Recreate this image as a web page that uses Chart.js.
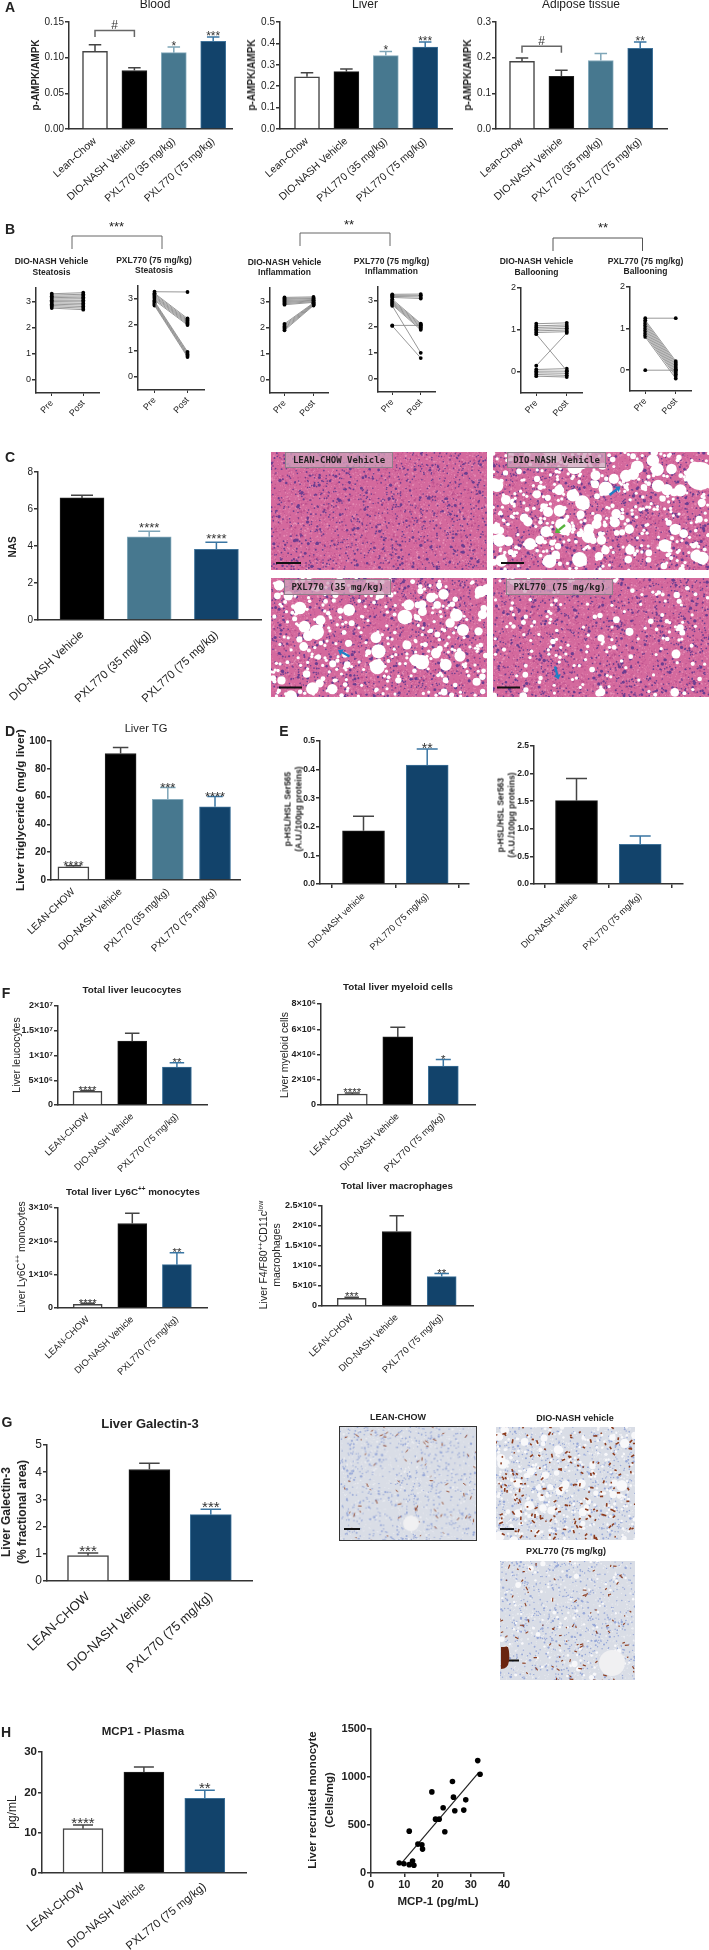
<!DOCTYPE html>
<html>
<head>
<meta charset="utf-8">
<title>PXL770 figure</title>
<script src="https://cdn.jsdelivr.net/npm/chart.js@4"></script>
<style>
  html, body { margin: 0; background: #fff; }
  #page { position: relative; width: 709px; height: 1950px; overflow: hidden; font-family: "Liberation Sans", Arial, sans-serif; color: #222; filter: blur(0.35px); }
  #page canvas { position: absolute; display: block; }
  .t { position: absolute; white-space: nowrap; line-height: 1; text-align: center; }
  .t sup { font-size: 65%; line-height: 0; }
  .tag { position: absolute; box-sizing: border-box; background: rgba(205,160,185,.75); border: 1px solid #8f7f8a; font: bold 9px "DejaVu Sans Mono", monospace; color: #222; line-height: 14px; text-align: center; white-space: nowrap; }
  svg { position: absolute; left: 0; top: 0; }
</style>
</head>
<body>
<div id="page"></div>
<script>
// ---- data ----
const groups4 = ["Lean-Chow", "DIO-NASH Vehicle", "PXL770 (35 mg/kg)", "PXL770 (75 mg/kg)"];
const groupsNas = ["DIO-NASH Vehicle", "PXL770 (35 mg/kg)", "PXL770 (75 mg/kg)"];
const groupsTg = ["LEAN-CHOW", "DIO-NASH Vehicle", "PXL770 (35 mg/kg)", "PXL770 (75 mg/kg)"];
const groupsHsl = ["DIO-NASH vehicle", "PXL770 (75 mg/kg)"];
const groups3 = ["LEAN-CHOW", "DIO-NASH Vehicle", "PXL770 (75 mg/kg)"];
const prePost = ["Pre", "Post"];

const bloodValues = [0.109, 0.082, 0.107, 0.123];
const bloodTops = [0.118, 0.086, 0.115, 0.129];
const liverValues = [0.244, 0.268, 0.343, 0.383];
const liverTops = [0.263, 0.280, 0.362, 0.407];
const adiposeValues = [0.19, 0.148, 0.192, 0.226];
const adiposeTops = [0.199, 0.165, 0.212, 0.244];

const steatVehPre = [3.30, 3.25, 3.20, 3.15, 3.10, 3.05, 3.00, 2.95, 2.90, 2.85, 2.80, 2.75];
const steatVehPost = [3.34, 3.28, 3.22, 3.17, 3.11, 3.05, 2.99, 2.93, 2.87, 2.81, 2.75, 2.69];
const steatPxlPre = [3.28, 3.22, 3.18, 3.13, 3.09, 3.05, 3.00, 2.95, 2.91, 2.87, 2.83, 2.79, 2.75];
const steatPxlPost = [3.27, 2.25, 2.20, 2.16, 2.12, 2.08, 2.04, 2.00, 0.97, 0.92, 0.87, 0.82, 0.77];
const inflVehPre = [3.16, 3.12, 3.08, 3.04, 3.00, 2.96, 2.92, 2.88, 2.15, 2.10, 2.05, 2.00, 1.95, 1.90];
const inflVehPost = [3.18, 3.14, 3.12, 3.08, 3.05, 3.03, 3.00, 2.97, 2.95, 2.93, 2.91, 2.89, 2.87, 2.85];
const inflPxlPre = [3.24, 3.20, 3.16, 3.12, 3.05, 3.00, 2.96, 2.92, 2.88, 2.84, 2.80, 2.05, 2.03];
const inflPxlPost = [3.25, 3.20, 3.14, 3.08, 2.12, 2.08, 2.03, 1.98, 1.93, 1.88, 1.00, 2.05, 0.80];
const ballVehPre = [1.15, 1.10, 1.06, 1.02, 0.98, 0.94, 0.90, 0.15, 0.06, 0.02, -0.02, -0.06, -0.10];
const ballVehPost = [1.17, 1.12, 1.08, 1.04, 1.00, 0.96, 0.03, 0.93, 0.08, 0.02, -0.03, -0.08, -0.12];
const ballPxlPre = [1.25, 1.20, 1.16, 1.12, 1.08, 1.04, 1.00, 0.96, 0.92, 0.88, 0.84, 0.80, 0.00];
const ballPxlPost = [1.25, 0.22, 0.18, 0.14, 0.10, 0.06, 0.02, -0.02, -0.06, -0.10, -0.14, -0.20, 0.00];

const nasValues = [6.6, 4.5, 3.82];
const nasTops = [6.75, 4.8, 4.2];
const tgValues = [9.5, 91, 58, 52.7];
const tgTops = [10.3, 95.3, 66.5, 60];
const ser565Values = [0.186, 0.416];
const ser565Tops = [0.237, 0.472];
const ser563Values = [1.51, 0.72];
const ser563Tops = [1.91, 0.87];

const leucoValues = [2.75e6, 1.29e7, 7.68e6];
const leucoTops = [2.95e6, 1.447e7, 8.55e6];
const myeloidValues = [0.87e6, 5.39e6, 3.08e6];
const myeloidTops = [0.95e6, 6.16e6, 3.6e6];
const ly6cValues = [0.11e6, 2.535e6, 1.3e6];
const ly6cTops = [0.14e6, 2.84e6, 1.66e6];
const macroValues = [1.93e5, 1.863e6, 7.35e5];
const macroTops = [2.2e5, 2.257e6, 8.1e5];
const galectinValues = [0.93, 4.1, 2.44];
const galectinTops = [1.03, 4.33, 2.64];
const mcp1Values = [11, 25, 18.5];
const mcp1Tops = [11.9, 26.3, 20.5];

const mcpX = [8.5, 9.9, 11.5, 12.5, 11.5, 12.9, 14.1, 15.3, 15.5, 18.3, 19.4, 20.5, 21.7, 22.2, 24.5, 24.8, 25.2, 27.9, 28.5, 32.1, 32.8];
const monoY = [104, 97, 87, 125, 436, 80, 301, 294, 249, 845, 561, 561, 679, 430, 953, 790, 648, 655, 762, 1171, 1029];
const fitX = [9.2, 32.3];
const fitY = [104, 1043];

// ---- styles ----
const FONT = '"Liberation Sans", Arial, sans-serif';
const AXIS = "#333";
const WHITE_BAR = { fill: "#fff", edge: "#444", err: "#444" };
const BLACK_BAR = { fill: "#000", edge: "#222", err: "#444" };
const TEAL_BAR = { fill: "#47788f", edge: "#86abbc", err: "#7fa6b8" };
const NAVY_BAR = { fill: "#12436b", edge: "#3f7299", err: "#3a76a3" };

const page = document.getElementById("page");

function txt(html, cx, cy, size, opt) {
    opt = opt || {};
    const d = document.createElement("div");
    d.className = "t";
    d.innerHTML = html;
    d.style.left = cx + "px";
    d.style.top = cy + "px";
    d.style.fontSize = size + "px";
    d.style.fontWeight = opt.bold ? "bold" : "normal";
    if (opt.lineHeight) d.style.lineHeight = opt.lineHeight + "px";
    d.style.transform = "translate(-50%,-50%) rotate(" + (opt.rot || 0) + "deg)";
    page.appendChild(d);
}

function addCanvas(left, top, w, h) {
    const c = document.createElement("canvas");
    c.width = w;
    c.height = h;
    c.style.left = left + "px";
    c.style.top = top + "px";
    c.style.width = w + "px";
    c.style.height = h + "px";
    page.appendChild(c);
    return c;
}

// error whiskers, stars and "#" brackets are drawn against the chart's scales
const barExtras = {
    id: "barExtras",
    afterDatasetsDraw(chart, args, o) {
        const xs = chart.scales.x, ys = chart.scales.y, ctx = chart.ctx;
        ctx.save();
        o.tops.forEach((top, i) => {
            const x = xs.getPixelForValue(i);
            const y = ys.getPixelForValue(top);
            const base = ys.getPixelForValue(o.values[i]);
            const cap = o.barW / 4;
            ctx.strokeStyle = o.styles[i].err;
            ctx.lineWidth = 1.5;
            ctx.beginPath();
            ctx.moveTo(x, base);
            ctx.lineTo(x, y);
            ctx.moveTo(x - cap, y);
            ctx.lineTo(x + cap, y);
            ctx.stroke();
            if (o.stars && o.stars[i]) {
                ctx.fillStyle = "#333";
                ctx.font = o.starSize + "px " + FONT;
                ctx.textAlign = "center";
                ctx.textBaseline = "alphabetic";
                ctx.fillText(o.stars[i], x, y - o.starGap + 0.58 * o.starSize);
            }
        });
        if (o.bracket) {
            const a = xs.getPixelForValue(o.bracket.from), b = xs.getPixelForValue(o.bracket.to);
            const y = ys.getPixelForValue(o.bracket.at);
            ctx.strokeStyle = "#666";
            ctx.lineWidth = 1.5;
            ctx.beginPath();
            ctx.moveTo(a, y + 6.5);
            ctx.lineTo(a, y);
            ctx.lineTo(b, y);
            ctx.lineTo(b, y + 6.5);
            ctx.stroke();
            ctx.fillStyle = "#333";
            ctx.font = "12px " + FONT;
            ctx.textAlign = "center";
            ctx.textBaseline = "middle";
            ctx.fillText(o.bracket.text, (a + b) / 2, y - 4.5);
        }
        ctx.restore();
    }
};

function fixBox(w, h) {
    return {
        y: s => { s.width = w; s.paddingTop = 0; s.paddingBottom = 0; },
        x: s => { s.height = h; s.paddingLeft = 0; s.paddingRight = 0; }
    };
}

function yAxis(p, fit) {
    return {
        min: p.yMin || 0,
        max: p.yMax,
        afterBuildTicks: s => { s.ticks = p.yTicks.map(v => ({ value: v })); },
        afterFit: fit,
        border: { color: AXIS, width: 1.5 },
        grid: { drawOnChartArea: false, color: AXIS, lineWidth: 1.5, tickLength: 4 },
        ticks: {
            autoSkip: false,
            padding: 1,
            color: "#222",
            font: { family: FONT, size: p.tickSize, weight: p.tickBold ? "bold" : "normal" },
            callback: (v, i) => p.yLabels[i]
        }
    };
}

function barPanel(p) {
    const leftW = 72, rightPad = 10, topPad = 16, botH = 120;
    const w = leftW + p.x1 - p.x0 + rightPad;
    const h = topPad + p.bottom - p.top + botH;
    const fit = fixBox(leftW, botH);
    const step = p.step;
    const rot = p.labelRot || 44;
    new Chart(addCanvas(p.x0 - leftW, p.top - topPad, w, h), {
        type: "bar",
        data: {
            datasets: [{
                data: p.values.map((v, i) => ({ x: i, y: v })),
                backgroundColor: p.styles.map(s => s.fill),
                borderColor: p.styles.map(s => s.edge),
                borderWidth: p.styles.map(s => (s === WHITE_BAR ? 1.5 : 1)),
                borderSkipped: "bottom",
                barThickness: p.barW
            }]
        },
        options: {
            responsive: false,
            animation: false,
            events: [],
            layout: { padding: { top: topPad, right: rightPad, left: 0, bottom: 0 } },
            plugins: {
                legend: { display: false },
                tooltip: { enabled: false },
                barExtras: {
                    values: p.values, tops: p.tops, styles: p.styles, barW: p.barW,
                    stars: p.stars, starSize: p.starSize || 12, starGap: p.starGap === undefined ? 4 : p.starGap,
                    bracket: p.bracket
                }
            },
            scales: {
                x: {
                    type: "linear",
                    offset: false,
                    min: (p.x0 - p.first) / step,
                    max: (p.x1 - p.first) / step,
                    afterBuildTicks: s => { s.ticks = p.labels.map((l, i) => ({ value: i })); },
                    afterFit: fit.x,
                    border: { color: AXIS, width: 1.5 },
                    grid: p.xTicks ? { drawOnChartArea: false, color: AXIS, lineWidth: 1.5, tickLength: 4 } : { display: false, drawTicks: false },
                    ticks: {
                        autoSkip: false,
                        minRotation: rot,
                        maxRotation: rot,
                        padding: p.labelPad === undefined ? 6 : p.labelPad,
                        color: "#222",
                        font: { family: FONT, size: p.labelSize },
                        callback: v => p.labels[v]
                    }
                },
                y: yAxis(p, fit.y)
            }
        },
        plugins: [barExtras]
    });
}

function pairPanel(p) {
    const leftW = 24, rightPad = 8, topPad = 6, botH = 50;
    const w = leftW + p.x1 - p.x0 + rightPad;
    const h = topPad + p.bottom - p.top + botH;
    const fit = fixBox(leftW, botH);
    p.tickSize = 9;
    new Chart(addCanvas(p.x0 - leftW, p.top - topPad, w, h), {
        type: "line",
        data: {
            labels: prePost,
            datasets: p.pre.map((v, i) => ({
                data: [v, p.post[i]],
                borderColor: "#8c8c8c",
                borderWidth: 0.9,
                pointRadius: 1.9,
                pointBorderWidth: 0,
                pointBackgroundColor: "#000",
                clip: false
            }))
        },
        options: {
            responsive: false,
            animation: false,
            events: [],
            layout: { padding: { top: topPad, right: rightPad, left: 0, bottom: 0 } },
            plugins: { legend: { display: false }, tooltip: { enabled: false } },
            scales: {
                x: {
                    offset: true,
                    afterFit: fit.x,
                    border: { color: AXIS, width: 1.5 },
                    grid: { drawOnChartArea: false, offset: false, color: AXIS, lineWidth: 1, tickLength: 3 },
                    ticks: {
                        autoSkip: false, minRotation: 48, maxRotation: 48, padding: 2,
                        color: "#222", font: { family: FONT, size: 9 }
                    }
                },
                y: yAxis(p, fit.y)
            }
        }
    });
}

function scatterPanel() {
    const leftW = 50, rightPad = 14, topPad = 8, botH = 24;
    const x0 = 371, x1 = 504, top = 1729, bottom = 1873;
    const fit = fixBox(leftW, botH);
    const p = { yMax: 1500, yTicks: [0, 500, 1000, 1500], yLabels: ["0", "500", "1000", "1500"], tickSize: 11, tickBold: true };
    new Chart(addCanvas(x0 - leftW, top - topPad, leftW + x1 - x0 + rightPad, topPad + bottom - top + botH), {
        type: "scatter",
        data: {
            datasets: [
                {
                    data: mcpX.map((v, i) => ({ x: v, y: monoY[i] })),
                    pointRadius: 2.8, pointBorderWidth: 0, pointBackgroundColor: "#000", showLine: false
                },
                {
                    data: fitX.map((v, i) => ({ x: v, y: fitY[i] })),
                    showLine: true, borderColor: "#222", borderWidth: 1.2, pointRadius: 0
                }
            ]
        },
        options: {
            responsive: false,
            animation: false,
            events: [],
            layout: { padding: { top: topPad, right: rightPad, left: 0, bottom: 0 } },
            plugins: { legend: { display: false }, tooltip: { enabled: false } },
            scales: {
                x: {
                    type: "linear",
                    min: 0, max: 40,
                    afterFit: fit.x,
                    border: { color: AXIS, width: 1.5 },
                    grid: { drawOnChartArea: false, color: AXIS, lineWidth: 1.5, tickLength: 4 },
                    ticks: { stepSize: 10, padding: 1, color: "#222", font: { family: FONT, size: 11, weight: "bold" } }
                },
                y: yAxis(p, fit.y)
            }
        }
    });
}

// ---- panel A ----
const styles4 = [WHITE_BAR, BLACK_BAR, TEAL_BAR, NAVY_BAR];
const styles3 = [WHITE_BAR, BLACK_BAR, NAVY_BAR];
const styles2 = [BLACK_BAR, NAVY_BAR];
barPanel({ x0: 69, x1: 232, top: 22, bottom: 129, first: 95, step: 39.4, barW: 25, values: bloodValues, tops: bloodTops, styles: styles4, labels: groups4, labelSize: 10.5, labelRot: 42,
    yMax: 0.15, yTicks: [0, 0.05, 0.10, 0.15], yLabels: ["0.00", "0.05", "0.10", "0.15"], tickSize: 10,
    stars: ["", "", "*", "***"], bracket: { from: 0, to: 1, at: 0.138, text: "#" } });
barPanel({ x0: 280, x1: 452, top: 22, bottom: 129, first: 307, step: 39.4, barW: 25, values: liverValues, tops: liverTops, styles: styles4, labels: groups4, labelSize: 10.5, labelRot: 42,
    yMax: 0.5, yTicks: [0, 0.1, 0.2, 0.3, 0.4, 0.5], yLabels: ["0.0", "0.1", "0.2", "0.3", "0.4", "0.5"], tickSize: 10,
    stars: ["", "", "*", "***"] });
barPanel({ x0: 496, x1: 667, top: 22, bottom: 129, first: 522, step: 39.4, barW: 25, values: adiposeValues, tops: adiposeTops, styles: styles4, labels: groups4, labelSize: 10.5, labelRot: 42,
    yMax: 0.3, yTicks: [0, 0.1, 0.2, 0.3], yLabels: ["0.0", "0.1", "0.2", "0.3"], tickSize: 10,
    stars: ["", "", "", "**"], bracket: { from: 0, to: 1, at: 0.232, text: "#" } });

txt("Blood", 155, 4, 12);
txt("Liver", 365, 4, 12);
txt("Adipose tissue", 581, 4, 12);
txt("p-AMPK/AMPK", 36, 75, 10, { bold: true, rot: -90 });
txt("p-AMPK/AMPK", 252, 75, 10, { bold: true, rot: -90 });
txt("p-AMPK/AMPK", 468, 75, 10, { bold: true, rot: -90 });

// ---- panel B ----
const ticks3 = [0, 1, 2, 3], labels3 = ["0", "1", "2", "3"];
const ticks2 = [0, 1, 2], labels2 = ["0", "1", "2"];
pairPanel({ x0: 36, x1: 99, top: 288, bottom: 393, yMin: -0.5, yMax: 3.52, yTicks: ticks3, yLabels: labels3, pre: steatVehPre, post: steatVehPost });
pairPanel({ x0: 138, x1: 204, top: 286, bottom: 390, yMin: -0.5, yMax: 3.5, yTicks: ticks3, yLabels: labels3, pre: steatPxlPre, post: steatPxlPost });
pairPanel({ x0: 270, x1: 328, top: 288, bottom: 393, yMin: -0.5, yMax: 3.52, yTicks: ticks3, yLabels: labels3, pre: inflVehPre, post: inflVehPost });
pairPanel({ x0: 378, x1: 435, top: 287, bottom: 392, yMin: -0.5, yMax: 3.52, yTicks: ticks3, yLabels: labels3, pre: inflPxlPre, post: inflPxlPost });
pairPanel({ x0: 521, x1: 582, top: 288, bottom: 393, yMin: -0.5, yMax: 2, yTicks: ticks2, yLabels: labels2, pre: ballVehPre, post: ballVehPost });
pairPanel({ x0: 630, x1: 691, top: 287, bottom: 391, yMin: -0.5, yMax: 2, yTicks: ticks2, yLabels: labels2, pre: ballPxlPre, post: ballPxlPost });

[
    ["DIO-NASH Vehicle", "Steatosis", 51.5, 260.5, 271.5],
    ["PXL770 (75 mg/kg)", "Steatosis", 154, 259.5, 269.5],
    ["DIO-NASH Vehicle", "Inflammation", 284.5, 261.5, 272],
    ["PXL770 (75 mg/kg)", "Inflammation", 391.5, 260.5, 271],
    ["DIO-NASH Vehicle", "Ballooning", 536.5, 261, 272],
    ["PXL770 (75 mg/kg)", "Ballooning", 645.5, 260.5, 270.5]
].forEach(r => {
    txt(r[0], r[2], r[3], 8.5, { bold: true });
    txt(r[1], r[2], r[4], 8.5, { bold: true });
});
txt("***", 116.5, 226, 13);
txt("**", 349, 224, 13);
txt("**", 603, 227, 13);

// ---- histology pictures: only a texture, no data in them.
// Spot positions come from a fixed hash of the index so the picture is the same on every run.
function hash(i, k) {
    const v = Math.sin(i * 12.9898 + k * 78.233) * 43758.5453;
    return v - Math.floor(v);
}

function scatterDots(ctx, w, h, n, color, rMin, rMax, skip) {
    ctx.fillStyle = color;
    for (let i = skip + 1; i <= skip + n; i++) {
        const s = hash(i, 3);
        ctx.beginPath();
        ctx.arc(hash(i, 1) * w, hash(i, 2) * h, rMin + (rMax - rMin) * Math.pow(s, 7), 0, 6.3);
        ctx.fill();
    }
}
function scatterStreaks(ctx, w, h, n, color, len, lw, skip) {
    ctx.strokeStyle = color;
    ctx.lineWidth = lw;
    for (let i = skip + 1; i <= skip + n; i++) {
        const a = hash(i, 3) * 6.3, x = hash(i, 1) * w, y = hash(i, 2) * h;
        const l = len * (0.4 + hash(i, 4));
        ctx.beginPath();
        ctx.moveTo(x, y);
        ctx.lineTo(x + Math.cos(a) * l, y + Math.sin(a) * l);
        ctx.stroke();
    }
}

function heTissue(x, y, w, h, drops, rBig, holes, skip) {
    const ctx = addCanvas(x, y, w, h).getContext("2d");
    ctx.fillStyle = "#d4699d";
    ctx.fillRect(0, 0, w, h);
    scatterDots(ctx, w, h, 2600, "rgba(244,170,200,.5)", 0.5, 1.2, skip);
    scatterDots(ctx, w, h, 1800, "rgba(165,60,130,.5)", 0.5, 1.2, skip + 3000);
    scatterDots(ctx, w, h, 1000, "#6a3d90", 0.8, 1.7, skip + 5000);
    scatterDots(ctx, w, h, drops, "#fff", 1.6, rBig, skip + 7000);
    (holes || []).forEach(c => {
        ctx.fillStyle = "#fff";
        ctx.beginPath();
        ctx.arc(c[0], c[1], c[2], 0, 6.3);
        ctx.fill();
    });
}
function ihcTissue(x, y, w, h, browns, brownW, drops, rBig, holes, border, skip) {
    const c = addCanvas(x, y, w, h);
    if (border) { c.style.boxSizing = "border-box"; c.style.border = "1px solid #333"; }
    const ctx = c.getContext("2d");
    ctx.fillStyle = "#d9dde6";
    ctx.fillRect(0, 0, w, h);
    scatterDots(ctx, w, h, 900, "rgba(240,241,245,.8)", 0.5, 1.2, skip);
    scatterDots(ctx, w, h, 650, "#97a8d8", 0.7, 1.3, skip + 2000);
    scatterDots(ctx, w, h, drops, "#f8f8fa", 1.2, rBig, skip + 4000);
    scatterStreaks(ctx, w, h, browns, "#8c3a1c", 3, brownW, skip + 6000);
    (holes || []).forEach(k => {
        ctx.fillStyle = "#f0f0f2";
        ctx.beginPath();
        ctx.arc(k[0], k[1], k[2], 0, 6.3);
        ctx.fill();
    });
}
function tag(text, x, y, w) {
    const d = document.createElement("div");
    d.className = "tag";
    d.textContent = text;
    d.style.cssText = "left:" + x + "px;top:" + y + "px;width:" + w + "px;height:16px;";
    page.appendChild(d);
}

heTissue(271, 452, 216, 118, 0, 0, [], 0);
heTissue(493, 452, 216, 118, 460, 7.5, [[207, 24, 14], [37, 92, 6], [55, 60, 5], [140, 22, 6]], 10000);
heTissue(271, 578, 216, 119, 360, 7.5, [[78, 32, 6], [192, 52, 6], [165, 75, 5], [145, 82, 6]], 20000);
heTissue(493, 578, 216, 119, 150, 4.5, [[108, 60, 3.5], [183, 76, 4.5]], 30000);
tag("LEAN-CHOW Vehicle", 285, 452, 108);
tag("DIO-NASH Vehicle", 507, 452, 99);
tag("PXL770 (35 mg/kg)", 284, 579, 107);
tag("PXL770 (75 mg/kg)", 506, 579, 107);

ihcTissue(339, 1426, 138, 115, 70, 0.9, 0, 0, [[72, 98, 8]], true, 40000);
ihcTissue(496, 1427, 139, 113, 170, 1.6, 300, 5.5, [], false, 50000);
ihcTissue(500, 1561, 135, 119, 90, 1.1, 90, 3.5, [[112, 102, 13]], false, 60000);
txt("LEAN-CHOW", 398, 1417, 9, { bold: true });
txt("DIO-NASH vehicle", 575, 1417.5, 9, { bold: true });
txt("PXL770 (75 mg/kg)", 566, 1551, 9, { bold: true });

// ---- panel C ----
barPanel({ x0: 38, x1: 261, top: 472, bottom: 620, first: 82, step: 67.2, barW: 44, values: nasValues, tops: nasTops, styles: [BLACK_BAR, TEAL_BAR, NAVY_BAR], labels: groupsNas, labelSize: 11.5, labelPad: 8, labelRot: 43,
    yMax: 8, yTicks: [0, 2, 4, 6, 8], yLabels: ["0", "2", "4", "6", "8"], tickSize: 10,
    stars: ["", "****", "****"], starSize: 13, starGap: 7 });
txt("NAS", 13, 547, 10, { bold: true, rot: -90 });

// ---- panel D ----
barPanel({ x0: 51, x1: 240, top: 741, bottom: 880, first: 73.4, step: 47.2, barW: 31, values: tgValues, tops: tgTops, styles: styles4, labels: groupsTg, labelSize: 10,
    yMax: 100, yTicks: [0, 20, 40, 60, 80, 100], yLabels: ["0", "20", "40", "60", "80", "100"], tickSize: 10, tickBold: true,
    stars: ["****", "", "***", "****"], starSize: 13, starGap: 3.5 });
txt("Liver TG", 146, 729, 11.2);
txt("Liver triglyceride (mg/g liver)", 21, 810, 11.8, { bold: true, rot: -90 });

// ---- panel E ----
barPanel({ x0: 320, x1: 469, top: 741, bottom: 884, first: 363.5, step: 63.7, barW: 42, values: ser565Values, tops: ser565Tops, styles: styles2, labels: groupsHsl, labelSize: 9, xTicks: true, labelPad: 3,
    yMax: 0.5, yTicks: [0, 0.1, 0.2, 0.3, 0.4, 0.5], yLabels: ["0.0", "0.1", "0.2", "0.3", "0.4", "0.5"], tickSize: 8.5, tickBold: true,
    stars: ["", "**"], starSize: 14, starGap: 4.5 });
barPanel({ x0: 534, x1: 683, top: 746, bottom: 884, first: 576.5, step: 63.7, barW: 42, values: ser563Values, tops: ser563Tops, styles: styles2, labels: groupsHsl, labelSize: 9, xTicks: true, labelPad: 3,
    yMax: 2.5, yTicks: [0, 0.5, 1, 1.5, 2, 2.5], yLabels: ["0.0", "0.5", "1.0", "1.5", "2.0", "2.5"], tickSize: 8.5, tickBold: true });
txt("p-HSL/HSL Ser565<br>(A.U./100µg proteins)", 293, 809, 8.5, { bold: true, rot: -90, lineHeight: 10.5 });
txt("p-HSL/HSL Ser563<br>(A.U./100µg proteins)", 506, 815, 8.5, { bold: true, rot: -90, lineHeight: 10.5 });

// ---- panel F ----
barPanel({ x0: 58, x1: 207, top: 1006, bottom: 1105, first: 87.5, step: 44.7, barW: 29, values: leucoValues, tops: leucoTops, styles: styles3, labels: groups3, labelSize: 9.3,
    yMax: 2e7, yTicks: [0, 5e6, 1e7, 1.5e7, 2e7], yLabels: ["0", "5×10⁶", "1×10⁷", "1.5×10⁷", "2×10⁷"], tickSize: 9, tickBold: true,
    stars: ["****", "", "**"], starSize: 11.5, starGap: 3.5 });
barPanel({ x0: 321, x1: 475, top: 1004, bottom: 1105, first: 352.3, step: 45.5, barW: 30, values: myeloidValues, tops: myeloidTops, styles: styles3, labels: groups3, labelSize: 9.3,
    yMax: 8e6, yTicks: [0, 2e6, 4e6, 6e6, 8e6], yLabels: ["0", "2×10⁶", "4×10⁶", "6×10⁶", "8×10⁶"], tickSize: 9, tickBold: true,
    stars: ["****", "", "*"], starSize: 11.5, starGap: 3.5 });
barPanel({ x0: 58, x1: 207, top: 1208, bottom: 1308, first: 87.7, step: 44.6, barW: 29, values: ly6cValues, tops: ly6cTops, styles: styles3, labels: groups3, labelSize: 9.3,
    yMax: 3e6, yTicks: [0, 1e6, 2e6, 3e6], yLabels: ["0", "1×10⁶", "2×10⁶", "3×10⁶"], tickSize: 9, tickBold: true,
    stars: ["****", "", "**"], starSize: 11.5, starGap: 3.5 });
barPanel({ x0: 322, x1: 473, top: 1206, bottom: 1306, first: 351.7, step: 45, barW: 29, values: macroValues, tops: macroTops, styles: styles3, labels: groups3, labelSize: 9.3,
    yMax: 2.5e6, yTicks: [0, 5e5, 1e6, 1.5e6, 2e6, 2.5e6], yLabels: ["0", "5×10⁵", "1×10⁶", "1.5×10⁶", "2×10⁶", "2.5×10⁶"], tickSize: 9, tickBold: true,
    stars: ["***", "", "**"], starSize: 11.5, starGap: 3.5 });

txt("Total liver leucocytes", 132, 990, 9.8, { bold: true });
txt("Total liver myeloid cells", 398, 987, 9.8, { bold: true });
txt("Total liver Ly6C<sup>++</sup> monocytes", 133, 1192, 9.8, { bold: true });
txt("Total liver macrophages", 397, 1186, 9.8, { bold: true });
txt("Liver leucocytes", 15.5, 1054.5, 10.5, { rot: -90 });
txt("Liver myeloid cells", 284, 1054.5, 10.5, { rot: -90 });
txt("Liver Ly6C<sup>++</sup> monocytes", 20.5, 1257, 10.5, { rot: -90 });
txt("Liver F4/F80<sup>++</sup>CD11c<sup>low</sup><br>macrophages", 270, 1255, 10.5, { rot: -90, lineHeight: 13 });

// ---- panel G ----
barPanel({ x0: 47, x1: 252, top: 1445, bottom: 1581, first: 88, step: 61.4, barW: 41, values: galectinValues, tops: galectinTops, styles: styles3, labels: groups3, labelSize: 13, labelPad: 8, labelRot: 43,
    yMax: 5, yTicks: [0, 1, 2, 3, 4, 5], yLabels: ["0", "1", "2", "3", "4", "5"], tickSize: 12,
    stars: ["***", "", "***"], starSize: 15, starGap: 6 });
txt("Liver Galectin-3", 150, 1423, 13, { bold: true });
txt("Liver Galectin-3<br>(% fractional area)", 13.5, 1512, 12, { bold: true, rot: -90, lineHeight: 16 });

// ---- panel H ----
barPanel({ x0: 42, x1: 246, top: 1752, bottom: 1873, first: 83, step: 60.9, barW: 40, values: mcp1Values, tops: mcp1Tops, styles: styles3, labels: groups3, labelSize: 11.5, labelPad: 7, labelRot: 39,
    yMax: 30, yTicks: [0, 10, 20, 30], yLabels: ["0", "10", "20", "30"], tickSize: 11.5, tickBold: true,
    stars: ["****", "", "**"], starSize: 15, starGap: 6 });
scatterPanel();
txt("MCP1 - Plasma", 143, 1732, 11.5, { bold: true });
txt("pg/mL", 12, 1812, 12, { rot: -90 });
txt("MCP-1 (pg/mL)", 438, 1902, 11.5, { bold: true });
txt("Liver recruited monocyte<br>(Cells/mg)", 321, 1800, 11.5, { bold: true, rot: -90, lineHeight: 17 });

// ---- panel letters ----
[["A", 10, 7], ["B", 10, 229], ["C", 10, 457], ["D", 10, 731], ["E", 284, 731], ["F", 6, 993], ["G", 7, 1422], ["H", 6, 1732]].forEach(r => {
    txt(r[0], r[1], r[2], 14, { bold: true });
});

// ---- brackets, scale bars, arrows ----
const NS = "http://www.w3.org/2000/svg";
const svg = document.createElementNS(NS, "svg");
svg.setAttribute("width", 709);
svg.setAttribute("height", 1950);
page.appendChild(svg);

function path(d, stroke, width, fill) {
    const e = document.createElementNS(NS, "path");
    e.setAttribute("d", d);
    e.setAttribute("stroke", stroke);
    e.setAttribute("stroke-width", width);
    e.setAttribute("fill", fill || "none");
    svg.appendChild(e);
}
function arrow(x1, y1, x2, y2, color) {
    const a = Math.atan2(y2 - y1, x2 - x1), s = 3.6;
    const bx = x2 - Math.cos(a) * s * 1.3, by = y2 - Math.sin(a) * s * 1.3;
    path("M" + x1 + " " + y1 + "L" + bx + " " + by, color, 2.4);
    path("M" + x2 + " " + y2 + "L" + (bx - Math.sin(a) * s) + " " + (by + Math.cos(a) * s) + "L" + (bx + Math.sin(a) * s) + " " + (by - Math.cos(a) * s) + "Z", color, 0, color);
}
path("M72 249V236H162V249", "#666", 1);
path("M300 246V233H390V246", "#666", 1);
path("M553 251V238H642.5V251", "#555", 1);

[[276, 301, 563], [501, 524, 563], [279, 302, 687.5], [497, 520, 687.5], [344, 360, 1529], [500, 514, 1529], [505, 519, 1660.5]].forEach(r => {
    path("M" + r[0] + " " + r[2] + "H" + r[1], "#111", 2);
});
arrow(609.5, 495, 620.5, 486.5, "#1f7fc4");
arrow(565, 525, 555, 533, "#56b33c");
arrow(349.5, 656.5, 338, 650, "#1f7fc4");
arrow(555, 666.5, 558.5, 679.5, "#1f7fc4");
path("M501 1647h7q2 6 1 14t-8 8z", "#6a2410", 0, "#6a2410");
</script>
</body>
</html>
